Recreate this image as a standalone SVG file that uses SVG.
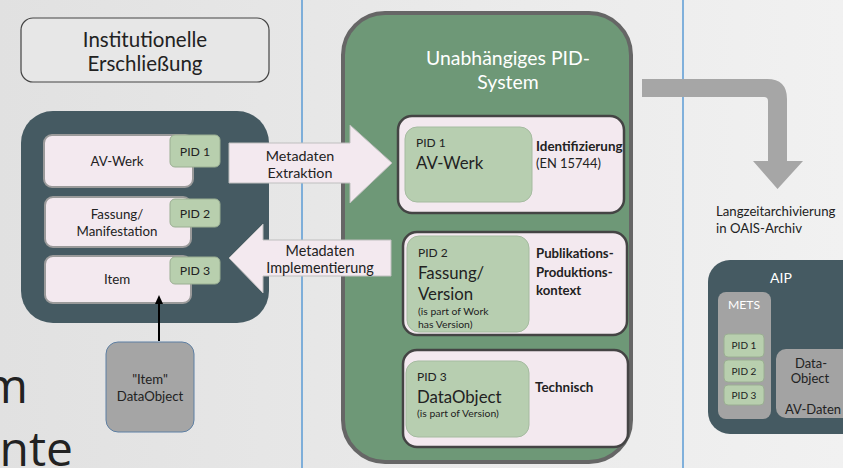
<svg xmlns="http://www.w3.org/2000/svg" width="843" height="468" viewBox="0 0 843 468">
<defs>
<linearGradient id="bg" x1="0" y1="0" x2="1" y2="0">
<stop offset="0" stop-color="#e1e1e1"/>
<stop offset="1" stop-color="#f1f1f1"/>
</linearGradient>
<style>
text{font-family:Lato,"Open Sans","Liberation Sans",sans-serif;fill:#222}
.c{text-anchor:middle}
.w{fill:#fff}
.b{font-weight:bold}
.pink{fill:#f3e9ef;stroke:#9a9a9a;stroke-width:2}
.pid{fill:#b8cfae;stroke:#9aae92;stroke-width:1}
.inner{fill:#f3e9ef;stroke:#444;stroke-width:2.5}
.ig{fill:#b7ceb0;stroke:#a5bba0;stroke-width:1}
.gray{fill:#a3a3a3}
.vl{stroke:#5b9bd5;stroke-width:1.5}
</style>
</defs>
<rect width="843" height="468" fill="url(#bg)"/>
<line class="vl" x1="302" y1="0" x2="302" y2="468"/>
<line class="vl" x1="683" y1="0" x2="683" y2="468"/>
<text x="28" y="403" font-size="48" style="text-anchor:end;font-family:'Open Sans',sans-serif">m</text>
<text x="73" y="466" font-size="48" style="text-anchor:end;font-family:'Open Sans',sans-serif">ente</text>

<g id="inst">
<rect x="21" y="18" width="248" height="64" rx="12" fill="#e7e7e7" stroke="#444" stroke-width="1.2"/>
<text class="c" x="145" y="47" font-size="20.5">Institutionelle</text>
<text class="c" x="145" y="71" font-size="20.5">Erschließung</text>
</g>

<g id="left">
<rect x="21" y="111" width="248" height="212" rx="32" fill="#455a62"/>
</g>
<g id="avwerk">
<rect class="pink" x="44" y="135" width="149" height="52" rx="8"/>
<text class="c" x="117" y="166" font-size="13.3">AV-Werk</text>
<rect class="pid" x="170" y="135" width="50" height="32" rx="5"/>
<text class="c" x="195" y="156" font-size="12.3">PID 1</text>
</g>
<g id="fassung">
<rect class="pink" x="45" y="197" width="146" height="50" rx="8"/>
<text class="c" x="117" y="219" font-size="13.3">Fassung/</text>
<text class="c" x="117" y="236" font-size="13.3">Manifestation</text>
<rect class="pid" x="170" y="199" width="50" height="28" rx="5"/>
<text class="c" x="195" y="218" font-size="12.3">PID 2</text>
</g>
<g id="item">
<rect class="pink" x="45" y="256" width="146" height="47" rx="8"/>
<text class="c" x="117" y="284" font-size="13.3">Item</text>
<rect class="pid" x="170" y="257" width="50" height="27" rx="5"/>
<text class="c" x="195" y="275" font-size="12.3">PID 3</text>
</g>
<g id="dataobject">
<rect x="106" y="342" width="88" height="90" rx="12" fill="#a5a5a5" stroke="#5d7fa3" stroke-width="1"/>
<text class="c" x="150" y="384" font-size="13.2">"Item"</text>
<text class="c" x="150" y="401" font-size="13.2">DataObject</text>
</g>

<g id="pidsys">
<rect x="343" y="13" width="288" height="449" rx="42" fill="#6e9877" stroke="#666" stroke-width="4"/>
<text class="c w" x="508" y="65" font-size="19.4">Unabhängiges PID-</text>
<text class="c w" x="508" y="89" font-size="19.4">System</text>
</g>
<g id="pid1">
<rect class="inner" x="398" y="116" width="226" height="97" rx="14"/>
<rect class="ig" x="405" y="127" width="127" height="75" rx="12"/>
<text x="416" y="147" font-size="12">PID 1</text>
<text x="416" y="169" font-size="16.8">AV-Werk</text>
<text class="b" x="536" y="151" font-size="13.4">Identifizierung</text>
<text x="536" y="168" font-size="12.9">(EN 15744)</text>
</g>
<g id="pid2">
<rect class="inner" x="403" y="232" width="224" height="103" rx="14"/>
<rect class="ig" x="407" y="236" width="122" height="96" rx="12"/>
<text x="418" y="257" font-size="12">PID 2</text>
<text x="418" y="279" font-size="16.8">Fassung/</text>
<text x="418" y="300" font-size="16.8">Version</text>
<text x="418" y="315" font-size="10.4">(is part of Work</text>
<text x="418" y="328" font-size="10.4">has Version)</text>
<text class="b" x="536" y="258" font-size="13.2">Publikations-</text>
<text class="b" x="536" y="277" font-size="13.2">Produktions-</text>
<text class="b" x="536" y="295" font-size="13.2">kontext</text>
</g>
<g id="pid3">
<rect class="inner" x="403" y="350" width="225" height="97" rx="14"/>
<rect class="ig" x="406" y="361" width="123" height="76" rx="12"/>
<text x="417" y="381" font-size="12">PID 3</text>
<text x="417" y="403" font-size="16.8">DataObject</text>
<text x="417" y="417" font-size="10.4">(is part of Version)</text>
<text class="b" x="535" y="392" font-size="13.4">Technisch</text>
</g>

<g id="aip">
<rect x="708" y="260" width="160" height="174" rx="22" fill="#455a62"/>
<text class="c w" x="781" y="283" font-size="14">AIP</text>
<rect class="gray" x="718" y="292" width="53" height="127" rx="8"/>
<text class="c w" x="744" y="309" font-size="12.2">METS</text>
<rect class="pid" x="724" y="334" width="40" height="23" rx="4"/>
<text class="c" x="744" y="349" font-size="10">PID 1</text>
<rect class="pid" x="724" y="360" width="40" height="22" rx="4"/>
<text class="c" x="744" y="375" font-size="10">PID 2</text>
<rect class="pid" x="724" y="385" width="40" height="20" rx="4"/>
<text class="c" x="744" y="399" font-size="10">PID 3</text>
<rect class="gray" x="776" y="349" width="90" height="69" rx="10"/>
<text class="c" x="811" y="368" font-size="13">Data-</text>
<text class="c" x="810" y="383" font-size="13">Object</text>
<text class="c" x="813" y="414" font-size="13">AV-Daten</text>
</g>
<g id="lza">
<text x="716" y="216" font-size="13.2">Langzeitarchivierung</text>
<text x="716" y="233" font-size="13.2">in OAIS-Archiv</text>
</g>

<g id="connectors">
<path d="M229 143 H350 V125 L392 163 L350 203 V183 H229 Z" fill="#f3e9ef" stroke="#bfbfbf" stroke-width="1"/>
<text class="c" x="300" y="161" font-size="14.3">Metadaten</text>
<text class="c" x="300" y="178" font-size="14.3">Extraktion</text>
<path d="M391 240 H263 V224 L229 258 L263 293 V276 H391 Z" fill="#f3e9ef" stroke="#bfbfbf" stroke-width="1"/>
<text class="c" x="320" y="256" font-size="14.4">Metadaten</text>
<text class="c" x="320" y="273" font-size="14.4">Implementierung</text>
<path d="M642 79 H767 Q787 79 787 99 V161 H803 L777.5 189 L753 161 H768 V101 Q768 97 764 97 H642 Z" fill="#a6a6a6"/>
<line x1="159" y1="341" x2="159" y2="303" stroke="#000" stroke-width="2"/>
<path d="M159 295 L155 304 L163 304 Z" fill="#000"/>
</g>
</svg>
